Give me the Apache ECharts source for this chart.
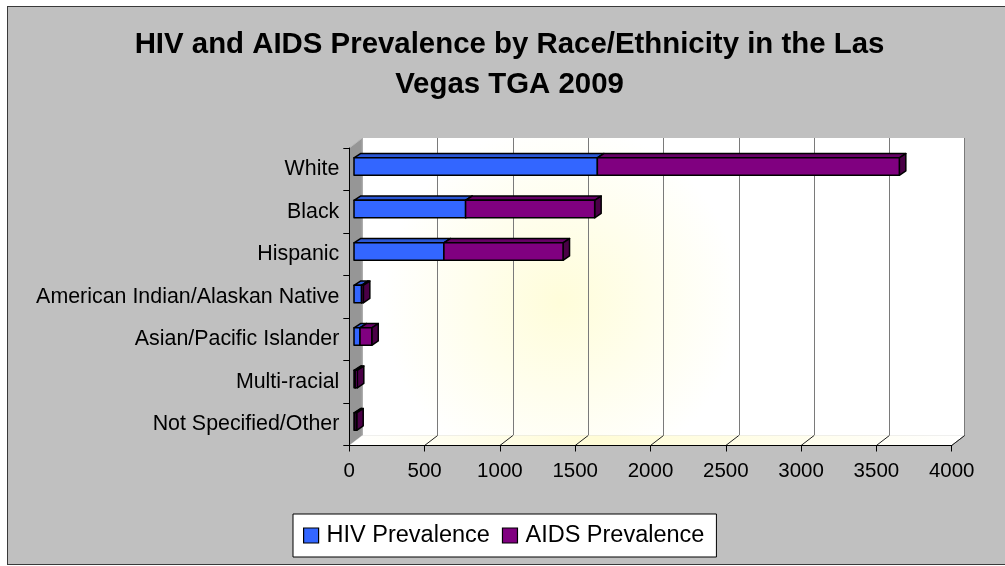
<!DOCTYPE html>
<html>
<head>
<meta charset="utf-8">
<script src="https://cdn.jsdelivr.net/npm/echarts@6/dist/echarts.min.js"></script>
<style>
    html, body { margin: 0; padding: 0; background: #fff; }
    #frame { position: absolute; left: 7px; top: 6px; width: 1010px; height: 557px; background: #c0c0c0; border: 1px solid #3a3a3a; }
    #main { position: absolute; left: 0; top: 0; width: 1005px; height: 566px; }
</style>
</head>
<body>
<div id="frame"></div>
<div id="main"></div>
<script>
    // data
    var categories = ['White', 'Black', 'Hispanic', 'American Indian/Alaskan Native',
        'Asian/Pacific Islander', 'Multi-racial', 'Not Specified/Other'];
    var hivValues = [1616, 741, 597, 50, 40, 8, 6];
    var aidsValues = [2005, 857, 791, 12, 78, 14, 12];
    var xTicks = [0, 500, 1000, 1500, 2000, 2500, 3000, 3500, 4000];
    var titleLines = ['HIV and AIDS Prevalence by Race/Ethnicity in the Las', 'Vegas TGA 2009'];

    // 3d look
    var WALL_DX = 13, WALL_DY = 10;   // depth of floor / side wall
    var BAR_OX = 4.7, BAR_OY = -2.7;  // bar front face offset from front plane
    var BAR_DX = 6.5, BAR_DY = 4.3;   // bar depth
    var FRONT = {left: 349.3, top: 148, width: 602.4, height: 297.5};

    var chart = echarts.init(document.getElementById('main'), null, {renderer: 'canvas'});

    var hivData = categories.map(function (c, i) { return [i, 0, hivValues[i]]; });
    var aidsData = categories.map(function (c, i) { return [i, hivValues[i], hivValues[i] + aidsValues[i]]; });

    var makeBar = function (front, top, side) {
        return function (params, api) {
            var cat = api.value(0);
            var p0 = api.coord([api.value(1), cat]);
            var p1 = api.coord([api.value(2), cat]);
            var h = api.size([0, 1])[1] * 0.41;
            var x0 = p0[0] + BAR_OX, x1 = p1[0] + BAR_OX;
            var yt = p0[1] + BAR_OY - h / 2, yb = yt + h;
            var line = {stroke: '#000', lineWidth: 1.5, lineJoin: 'round'};
            return {
                type: 'group',
                children: [
                    {type: 'polygon', shape: {points: [[x0, yt], [x0 + BAR_DX, yt - BAR_DY], [x1 + BAR_DX, yt - BAR_DY], [x1, yt]]},
                        style: Object.assign({fill: top}, line)},
                    {type: 'polygon', shape: {points: [[x1, yt], [x1 + BAR_DX, yt - BAR_DY], [x1 + BAR_DX, yb - BAR_DY], [x1, yb]]},
                        style: Object.assign({fill: side}, line)},
                    {type: 'rect', shape: {x: x0, y: yt, width: x1 - x0, height: h},
                        style: Object.assign({fill: front}, line)}
                ]
            };
        };
    };

    // floor, side wall and floor tick lines
    var renderFrame = function (params, api) {
        var cs = params.coordSys;
        var l = cs.x, t = cs.y, r = cs.x + cs.width, b = cs.y + cs.height;
        var children = [
            {type: 'polygon', shape: {points: [[l, t], [l + WALL_DX, t - WALL_DY], [l + WALL_DX, b - WALL_DY], [l, b]]},
                style: {fill: '#969696', stroke: '#b8b8b8', lineWidth: 1}},
            {type: 'polygon', shape: {points: [[l, b], [r, b], [r + WALL_DX, b - WALL_DY], [l + WALL_DX, b - WALL_DY]]},
                style: {fill: new echarts.graphic.LinearGradient(0, 0, 1, 0, [
                    {offset: 0, color: '#ffffff'}, {offset: 0.4, color: '#fffcd6'}, {offset: 1, color: '#ffffff'}])}},
            {type: 'line', shape: {x1: r, y1: b, x2: r + WALL_DX, y2: b - WALL_DY}, style: {stroke: '#808080', lineWidth: 1}}
        ];
        xTicks.forEach(function (v) {
            if (v === 0) return;
            var x = api.coord([v, 0])[0];
            children.push({type: 'line', shape: {x1: x, y1: b, x2: x + WALL_DX, y2: b - WALL_DY},
                style: {stroke: '#202020', lineWidth: 1}});
        });
        return {type: 'group', children: children};
    };

    var option = {
        animation: false,
        textStyle: {fontFamily: 'Liberation Sans, Arial, sans-serif', color: '#000'},
        graphic: titleLines.map(function (t, i) {
            return {
                type: 'text', x: 509.5, y: 45 + i * 39.5, z: 10,
                style: {text: t, fill: '#000', align: 'center', verticalAlign: 'middle',
                    font: 'bold 29.4px "Liberation Sans", Arial, sans-serif'}
            };
        }),
        legend: {
            left: 293, top: 514,
            orient: 'horizontal',
            backgroundColor: '#fff',
            borderColor: '#000', borderWidth: 1,
            padding: [8, 12, 8, 10],
            itemGap: 12, itemWidth: 15, itemHeight: 15,
            icon: 'rect',
            itemStyle: {borderColor: '#000', borderWidth: 1.2},
            textStyle: {fontSize: 23.5, color: '#000', lineHeight: 27, padding: [0, 0, 0, 3]},
            data: ['HIV Prevalence', 'AIDS Prevalence']
        },
        grid: [
            {left: FRONT.left, top: FRONT.top, width: FRONT.width, height: FRONT.height},
            {left: FRONT.left + WALL_DX, top: FRONT.top - WALL_DY, width: FRONT.width, height: FRONT.height,
                show: true, borderWidth: 0,
                backgroundColor: new echarts.graphic.RadialGradient(0.33, 0.55, 0.6, [
                    {offset: 0, color: '#fffdda'}, {offset: 1, color: '#ffffff'}])}
        ],
        xAxis: [
            {
                gridIndex: 0, type: 'value', min: 0, max: 4000, interval: 500, z: 5,
                axisLine: {show: true, lineStyle: {color: '#000', width: 1}},
                axisTick: {show: true, length: 6, lineStyle: {color: '#000'}},
                axisLabel: {fontSize: 20.5, color: '#000', margin: 15, formatter: function (v) { return String(v); }},
                splitLine: {show: false}
            },
            {
                gridIndex: 1, type: 'value', min: 0, max: 4000, interval: 500,
                axisLine: {show: false}, axisTick: {show: false}, axisLabel: {show: false},
                splitLine: {show: true, lineStyle: {color: '#7a7a7a', width: 1}}
            }
        ],
        yAxis: [
            {
                gridIndex: 0, type: 'category', data: categories, inverse: true, z: 5,
                axisLine: {show: true, lineStyle: {color: '#000', width: 1}},
                axisTick: {show: true, length: 6, lineStyle: {color: '#000'}},
                axisLabel: {fontSize: 21.4, color: '#000', margin: 10}
            },
            {
                gridIndex: 1, type: 'category', data: categories, inverse: true, show: false
            }
        ],
        series: [
            {
                type: 'custom', name: 'frame', xAxisIndex: 0, yAxisIndex: 0, z: 1, silent: true,
                data: [[0, 0]], renderItem: renderFrame
            },
            {
                type: 'custom', name: 'HIV Prevalence', xAxisIndex: 0, yAxisIndex: 0, z: 3,
                itemStyle: {color: '#3366ff'},
                encode: {x: [1, 2], y: 0},
                data: hivData, renderItem: makeBar('#3366ff', '#2b57d6', '#1f3f9e')
            },
            {
                type: 'custom', name: 'AIDS Prevalence', xAxisIndex: 0, yAxisIndex: 0, z: 4,
                itemStyle: {color: '#800080'},
                encode: {x: [1, 2], y: 0},
                data: aidsData, renderItem: makeBar('#800080', '#660066', '#4a0046')
            }
        ]
    };

    chart.setOption(option);
</script>
</body>
</html>
